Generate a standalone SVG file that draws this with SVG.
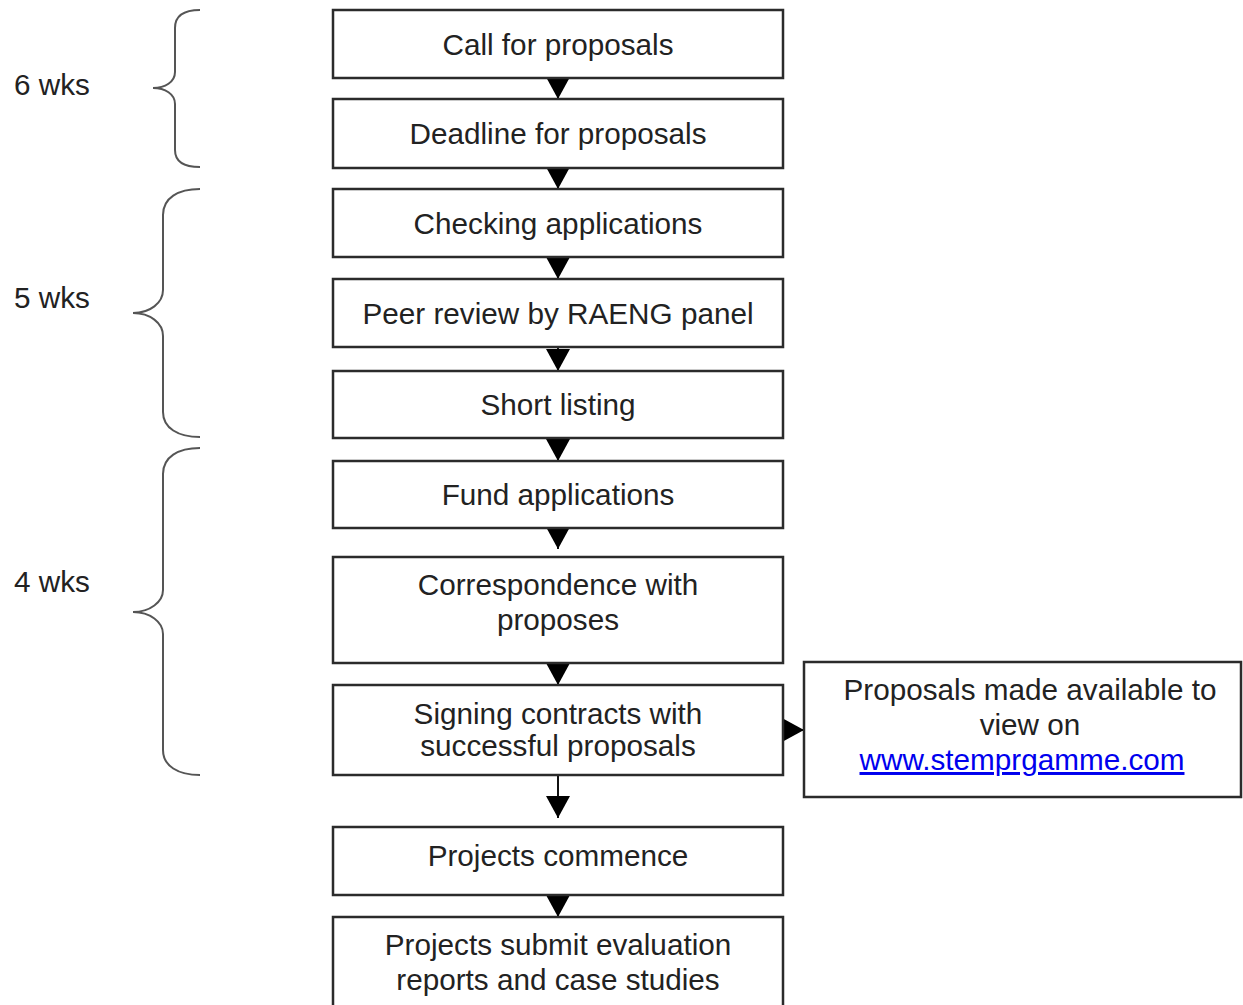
<svg xmlns="http://www.w3.org/2000/svg" width="1243" height="1005" viewBox="0 0 1243 1005">
<style>
.box{fill:#fff;stroke:#2b2b2b;stroke-width:2.5}
.t{font-family:"Liberation Sans",Arial,sans-serif;font-size:29.7px;fill:#222;text-anchor:middle}
.lbl{font-family:"Liberation Sans",Arial,sans-serif;font-size:29.7px;fill:#222}
.brace{fill:none;stroke:#555;stroke-width:2}
.conn{stroke:#111;stroke-width:2;fill:none;marker-end:url(#ah)}
.link{fill:#0000ee;text-decoration:underline}
</style>
<defs>
<marker id="ah" markerUnits="userSpaceOnUse" markerWidth="22" markerHeight="24" refX="22" refY="12" orient="auto">
<path d="M0,0 L22,12 L0,24 z" fill="#000"/>
</marker>
</defs>
<rect width="1243" height="1005" fill="#fff"/>
<g id="braces">
<path class="brace" d="M200,10 C185,10 175,15 175,28 L175,72 C175,82 165,88 153,88 C165,88 175,94 175,104 L175,150 C175,162 185,167 200,167"/>
<path class="brace" d="M200,189 C178,189 163,198 163,215 L163,290 C163,303 150,313 133,313 C150,313 163,323 163,336 L163,412 C163,428 178,437 200,437"/>
<path class="brace" d="M200,448 C178,448 163,457 163,474 L163,590 C163,602 150,612 133,612 C150,612 163,622 163,634 L163,750 C163,766 178,775 200,775"/>
<text class="lbl" x="14" y="95">6 wks</text>
<text class="lbl" x="14" y="308">5 wks</text>
<text class="lbl" x="14" y="592">4 wks</text>
</g>
<g id="connectors">
<line class="conn" x1="558" y1="78" x2="558" y2="99"/>
<line class="conn" x1="558" y1="168" x2="558" y2="189"/>
<line class="conn" x1="558" y1="257" x2="558" y2="279"/>
<line class="conn" x1="558" y1="347" x2="558" y2="371"/>
<line class="conn" x1="558" y1="438" x2="558" y2="461"/>
<line class="conn" x1="558" y1="528" x2="558" y2="549"/>
<line class="conn" x1="558" y1="663" x2="558" y2="685"/>
<line class="conn" x1="558" y1="775" x2="558" y2="818"/>
<line class="conn" x1="558" y1="895" x2="558" y2="917"/>
<line class="conn" x1="783" y1="730" x2="804" y2="730"/>
</g>
<g id="n1"><rect class="box" x="333" y="10" width="450" height="68"/><text class="t" x="558" y="55">Call for proposals</text></g>
<g id="n2"><rect class="box" x="333" y="99" width="450" height="69"/><text class="t" x="558" y="144">Deadline for proposals</text></g>
<g id="n3"><rect class="box" x="333" y="189" width="450" height="68"/><text class="t" x="558" y="234">Checking applications</text></g>
<g id="n4"><rect class="box" x="333" y="279" width="450" height="68"/><text class="t" x="558" y="324">Peer review by RAENG panel</text></g>
<g id="n5"><rect class="box" x="333" y="371" width="450" height="67"/><text class="t" x="558" y="415">Short listing</text></g>
<g id="n6"><rect class="box" x="333" y="461" width="450" height="67"/><text class="t" x="558" y="505">Fund applications</text></g>
<g id="n7"><rect class="box" x="333" y="557" width="450" height="106"/><text class="t" x="558" y="595">Correspondence with</text><text class="t" x="558" y="630">proposes</text></g>
<g id="n8"><rect class="box" x="333" y="685" width="450" height="90"/><text class="t" x="558" y="724">Signing contracts with</text><text class="t" x="558" y="756">successful proposals</text></g>
<g id="n9"><rect class="box" x="333" y="827" width="450" height="68"/><text class="t" x="558" y="866">Projects commence</text></g>
<g id="n10"><rect class="box" x="333" y="917" width="450" height="100"/><text class="t" x="558" y="955">Projects submit evaluation</text><text class="t" x="558" y="990">reports and case studies</text></g>
<g id="n11"><rect class="box" x="804" y="662" width="437" height="135"/><text class="t" x="1030" y="700">Proposals made available to</text><text class="t" x="1030" y="735">view on</text><text class="t link" x="1022" y="770">www.stemprgamme.com</text></g>
</svg>
